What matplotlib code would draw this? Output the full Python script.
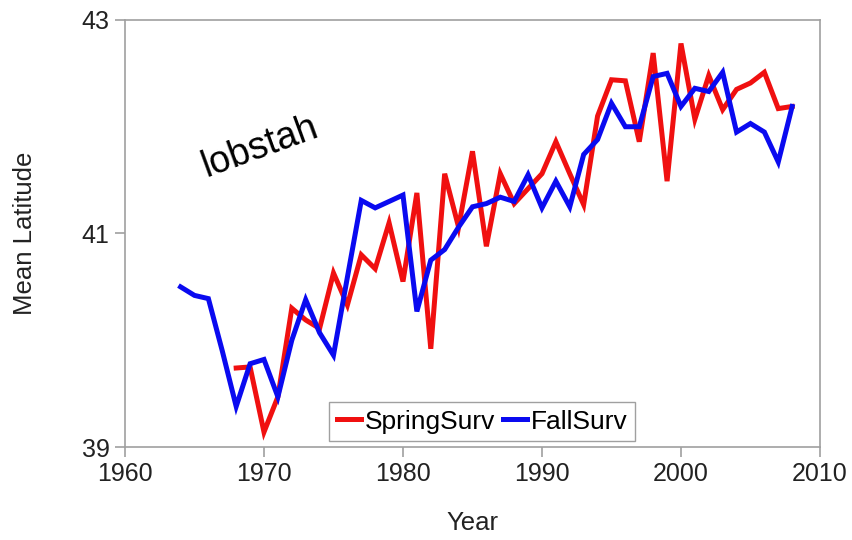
import numpy as np
import matplotlib
matplotlib.use("Agg")
import matplotlib.pyplot as plt

# ---- data -------------------------------------------------------------
spring_years = list(range(1968, 2009))
spring_lat = [39.74, 39.75, 39.14, 39.47, 40.30, 40.19, 40.11, 40.63, 40.33,
              40.80, 40.67, 41.10, 40.55, 41.38, 39.92, 41.56, 41.06, 41.77,
              40.88, 41.56, 41.28, 41.42, 41.56, 41.86, 41.56, 41.27, 42.10,
              42.44, 42.43, 41.86, 42.69, 41.49, 42.78, 42.07, 42.48, 42.16,
              42.35, 42.41, 42.51, 42.17, 42.19]

fall_years = list(range(1964, 2009))
fall_lat = [40.50, 40.42, 40.39, 39.90, 39.38, 39.78, 39.82, 39.47, 40.00,
            40.38, 40.07, 39.86, 40.59, 41.31, 41.24, 41.30, 41.36, 40.27,
            40.75, 40.85, 41.06, 41.25, 41.28, 41.34, 41.30, 41.55, 41.24,
            41.49, 41.25, 41.74, 41.88, 42.22, 42.00, 42.00, 42.47, 42.50,
            42.19, 42.36, 42.33, 42.51, 41.95, 42.03, 41.95, 41.67, 42.19]

xticks = [1960, 1970, 1980, 1990, 2000, 2010]
yticks = [39, 41, 43]

RED, BLUE, GRAY = "#f01010", "#0a0af0", "#a0a0a0"
plt.rcParams.update({"font.family": ["Liberation Sans", "DejaVu Sans"],
                     "font.size": 18})

fig = plt.figure(figsize=(8.52, 5.40), dpi=100)
ax = fig.add_axes([0.1467, 0.1722, 0.8157, 0.7908])

ax.plot(spring_years, spring_lat, color=RED, lw=3.6, label="SpringSurv",
        solid_joinstyle="miter")
ax.plot(fall_years, fall_lat, color=BLUE, lw=3.6, label="FallSurv",
        solid_joinstyle="miter")

ax.set_xlim(1960, 2010); ax.set_ylim(39, 43)
ax.set_xticks(xticks); ax.set_yticks(yticks)
for s in ax.spines.values():
    s.set_color(GRAY); s.set_linewidth(1.2)
ax.tick_params(direction="out", length=7, width=1.2, color=GRAY,
               labelsize=18, pad=4, labelcolor="#222222")
ax.set_xlabel("Year", fontsize=18.5, labelpad=18, color="#222222")
ax.set_ylabel("Mean Latitude", fontsize=18.5, labelpad=32, color="#222222")

ax.text(1969.7, 41.81, "lobstah", rotation=20, fontsize=27,
        ha="center", va="center")

leg = ax.legend(loc="lower center", bbox_to_anchor=(0.514, 0.013), ncol=2,
                fontsize=19, handlelength=0.9, handletextpad=0.15,
                columnspacing=0.3, borderpad=0.3, fancybox=False,
                framealpha=1, borderaxespad=0)
leg.get_frame().set_edgecolor(GRAY)
leg.get_frame().set_linewidth(1.0)

plt.savefig("out.png", dpi=100)
